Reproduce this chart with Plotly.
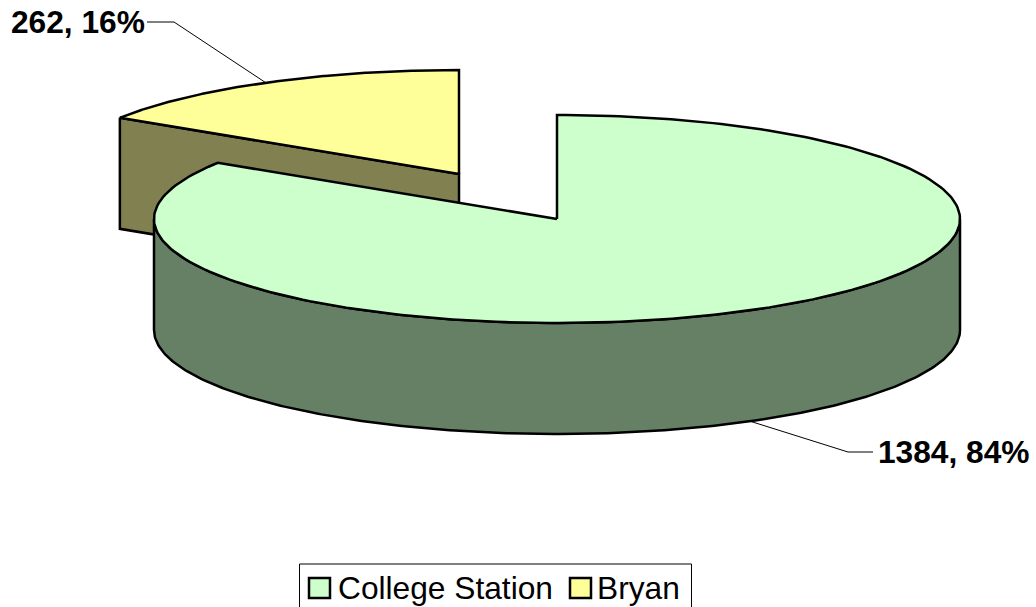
import numpy as np
import plotly.graph_objects as go

# Data
categories = ["College Station", "Bryan"]
values = [1384, 262]
fill_top = ["#CCFFCC", "#FFFF99"]
fill_side = ["#668066", "#808050"]

# Pseudo-3D projection settings (pixels of the 1036x607 picture)
RX, RY, DEPTH = 403, 104, 111
CENTERS = [(557, 219), (459, 174)]
FONT = "Liberation Sans, Arial, sans-serif"

total = sum(values)
share = [v / total for v in values]
sweep = [s * 2 * np.pi for s in share]
starts = [0.0, sweep[0]]


def point(center, a, drop=0.0):
    return center[0] + RX * np.sin(a), center[1] - RY * np.cos(a) + drop


def arc(center, a0, a1, drop=0.0):
    t = np.linspace(a0, a1, 240)
    return center[0] + RX * np.sin(t), center[1] - RY * np.cos(t) + drop


fig = go.Figure()
OUT = dict(color="black", width=2.5)


def poly(xs, ys, color, name):
    fig.add_trace(go.Scatter(x=list(xs), y=list(ys), mode="lines", fill="toself", fillcolor=color,
                             line=OUT, name=name, showlegend=False, hoverinfo="skip"))


# Bryan (exploded, drawn first): cut face then top
c = CENTERS[1]
a0, a1 = starts[1], starts[1] + sweep[1]
ex, ey = point(c, a0)
poly([ex, ex, c[0], c[0], ex], [ey, ey + DEPTH, c[1] + DEPTH, c[1], ey], fill_side[1], categories[1])
ax, ay = arc(c, a0, a1)
poly([c[0], *ax, c[0]], [c[1], *ay, c[1]], fill_top[1], categories[1])

# College Station: front rim then top
c = CENTERS[0]
a0, a1 = starts[0], starts[0] + sweep[0]
fx, fy = arc(c, np.pi / 2, 3 * np.pi / 2)
bx, by = arc(c, 3 * np.pi / 2, np.pi / 2, DEPTH)
poly([*fx, *bx, fx[0]], [*fy, *by, fy[0]], fill_side[0], categories[0])
ax, ay = arc(c, a0, a1)
poly([c[0], *ax, c[0]], [c[1], *ay, c[1]], fill_top[0], categories[0])

# Data labels with leader lines, anchored on each slice's mid angle
mid = [starts[i] + sweep[i] / 2 for i in range(2)]
labels = [f"{v}, {round(s * 100)}%" for v, s in zip(values, share)]

x0, y0 = point(CENTERS[0], mid[0], DEPTH)
fig.add_trace(go.Scatter(x=[x0, 848, 873], y=[y0, 452, 452], mode="lines",
                         line=dict(color="black", width=1), showlegend=False, hoverinfo="skip"))
x1, y1 = point(CENTERS[1], mid[1])
fig.add_trace(go.Scatter(x=[x1, 174, 147], y=[y1, 22, 22], mode="lines",
                         line=dict(color="black", width=1), showlegend=False, hoverinfo="skip"))

annotations = [
    dict(x=876, y=452, text=f"<b>{labels[0]}</b>", xanchor="left", yanchor="middle"),
    dict(x=147, y=22, text=f"<b>{labels[1]}</b>", xanchor="right", yanchor="middle"),
    dict(x=335.5, y=588, text=categories[0], xanchor="left", yanchor="middle"),
    dict(x=595, y=588, text=categories[1], xanchor="left", yanchor="middle"),
]
for a in annotations:
    a.update(xref="x", yref="y", showarrow=False, font=dict(family=FONT, size=31.7, color="black"))

# Legend box and swatches
shapes = [dict(type="rect", xref="x", yref="y", x0=299.5, x1=691.5, y0=564, y1=620,
               line=dict(color="black", width=1), fillcolor="white", layer="below")]
for x, col in zip([309, 570], fill_top):
    shapes.append(dict(type="rect", xref="x", yref="y", x0=x, x1=x + 21, y0=578, y1=598,
                       line=dict(color="black", width=2.5), fillcolor=col))

fig.update_layout(
    width=1036, height=607, autosize=False,
    margin=dict(l=0, r=0, t=0, b=0),
    paper_bgcolor="white", plot_bgcolor="white",
    showlegend=False,
    xaxis=dict(range=[0, 1036], visible=False, fixedrange=True),
    yaxis=dict(range=[607, 0], visible=False, fixedrange=True),
    annotations=annotations, shapes=shapes,
)
fig.write_html("out.html", config=dict(displayModeBar=False),
               post_script="document.body.style.margin='0';document.body.style.overflow='hidden';")
